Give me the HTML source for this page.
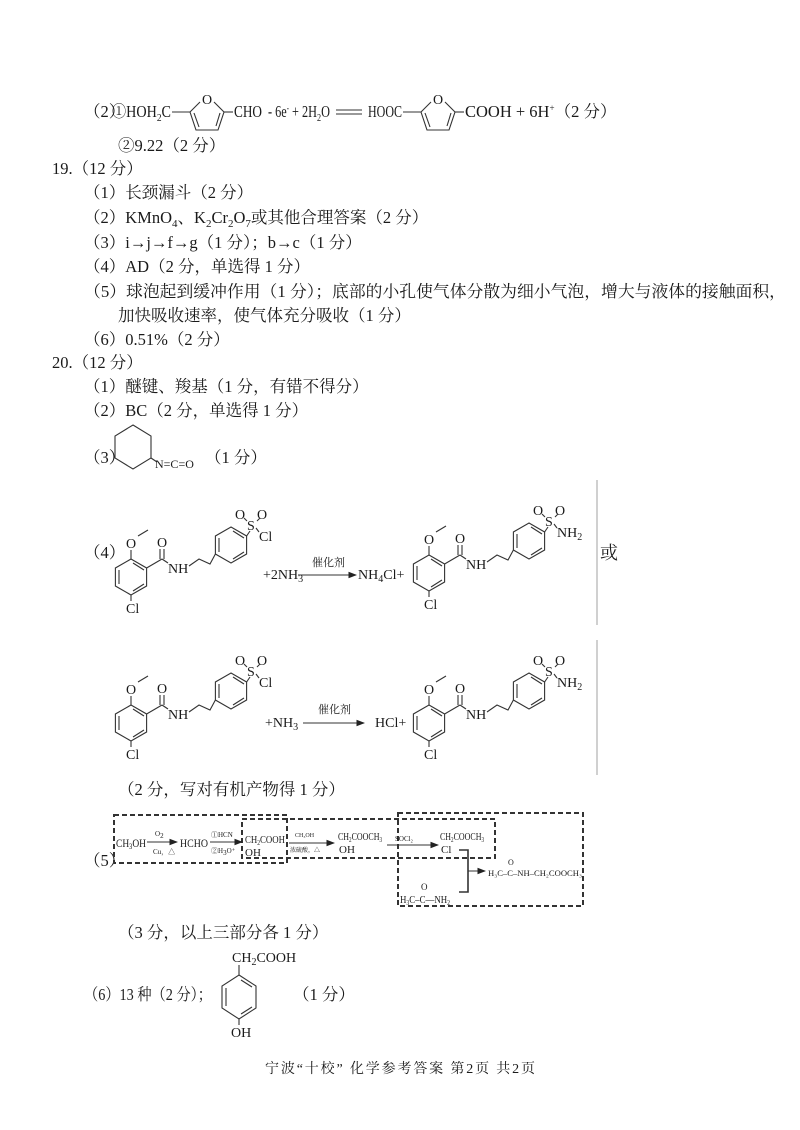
<!DOCTYPE html>
<html><head><meta charset="utf-8"><style>
html,body{margin:0;padding:0;background:#fff;}
svg{display:block;}
text{font-family:"Liberation Serif","Noto Serif CJK SC",serif;fill:#1a1a1a;}
.t{font-size:16.5px;}
.s{font-size:14px;}
line,polyline,polygon,path{stroke:#333;fill:none;stroke-width:1.1;}
</style></head><body>
<svg width="800" height="1130" viewBox="0 0 800 1130" xmlns="http://www.w3.org/2000/svg">
<defs>
<marker id="ar" markerWidth="8" markerHeight="6" refX="7" refY="3" orient="auto"><path d="M0,0 L8,3 L0,6z" style="fill:#222;stroke:none"/></marker>
<g id="m1">
 <polygon points="131,559 146.6,568 146.6,586 131,595 115.4,586 115.4,568"/>
 <line x1="119" y1="570" x2="119" y2="584"/><line x1="133" y1="591" x2="144" y2="584"/><line x1="133" y1="563" x2="144" y2="570"/>
 <line x1="131" y1="559" x2="131" y2="550"/>
 <text class="s" x="126" y="548">O</text>
 <line x1="138" y1="536" x2="148" y2="530"/>
 <line x1="146.6" y1="568" x2="162" y2="559"/>
 <line x1="160" y1="559" x2="160" y2="549"/><line x1="164" y1="559" x2="164" y2="549"/>
 <text class="s" x="157" y="547">O</text>
 <line x1="162" y1="559" x2="168" y2="563"/>
 <text class="s" x="168" y="573">NH</text>
 <polyline points="189,566 199,559 210,564 215.4,554"/>
 <polygon points="231,527 246.6,536 246.6,554 231,563 215.4,554 215.4,536"/>
 <line x1="219" y1="538" x2="219" y2="552"/><line x1="233" y1="531" x2="244" y2="538"/><line x1="233" y1="559" x2="244" y2="552"/>
 <line x1="246.6" y1="536" x2="250" y2="531"/>
 <line x1="131" y1="595" x2="131" y2="601"/>
 <text class="s" x="126" y="613">Cl</text>
 <text class="s" x="247" y="530">S</text>
 <text class="s" x="235" y="519">O</text><text class="s" x="257" y="519">O</text>
 <line x1="247" y1="521" x2="244" y2="518"/><line x1="257" y1="521" x2="260" y2="518"/>
 <line x1="256" y1="528" x2="259" y2="532"/>
</g>
<g id="fur">
 <line x1="172" y1="112" x2="190" y2="112"/>
 <polyline points="190,112 200,102"/><polyline points="214,102 224,112 218,130 196,130 190,112"/>
 <line x1="194" y1="113" x2="199" y2="127"/><line x1="220" y1="113" x2="216" y2="126"/>
 <text class="s" x="202" y="104">O</text>
 <line x1="224" y1="112" x2="233" y2="112"/>
</g>
</defs>

<!-- top equation -->
<text class="t" x="84" y="117">（2）</text>
<text class="t" x="112" y="117" textLength="59" lengthAdjust="spacingAndGlyphs">①HOH<tspan font-size="11" dy="4">2</tspan><tspan dy="-4">C</tspan></text>
<use href="#fur"/>
<text class="t" x="234" y="117" textLength="28" lengthAdjust="spacingAndGlyphs">CHO</text>
<text class="t" x="268" y="117" textLength="62" lengthAdjust="spacingAndGlyphs">- 6e<tspan font-size="9" dy="-6">-</tspan><tspan dy="6"> + 2H</tspan><tspan font-size="11" dy="4">2</tspan><tspan dy="-4">O</tspan></text>
<line x1="336" y1="110" x2="362" y2="110"/><line x1="336" y1="114" x2="362" y2="114"/>
<text class="t" x="368" y="117" textLength="34" lengthAdjust="spacingAndGlyphs">HOOC</text>
<use href="#fur" transform="translate(231,0)"/>
<text class="t" x="465" y="117">COOH  + 6H<tspan font-size="9" dy="-6">+</tspan><tspan dy="6">（2 分）</tspan></text>
<text class="t" x="118" y="151">②9.22（2 分）</text>

<text class="t" x="52" y="174">19.（12 分）</text>
<text class="t" x="84" y="198">（1）长颈漏斗（2 分）</text>
<text class="t" x="84" y="223">（2）KMnO<tspan font-size="11" dy="4">4</tspan><tspan dy="-4">、K</tspan><tspan font-size="11" dy="4">2</tspan><tspan dy="-4">Cr</tspan><tspan font-size="11" dy="4">2</tspan><tspan dy="-4">O</tspan><tspan font-size="11" dy="4">7</tspan><tspan dy="-4">或其他合理答案（2 分）</tspan></text>
<text class="t" x="84" y="248">（3）i→j→f→g（1 分）；b→c（1 分）</text>
<text class="t" x="84" y="272">（4）AD（2 分，单选得 1 分）</text>
<text class="t" x="84" y="297" textLength="702" lengthAdjust="spacingAndGlyphs">（5）球泡起到缓冲作用（1 分）；底部的小孔使气体分散为细小气泡，增大与液体的接触面积，</text>
<text class="t" x="118" y="321">加快吸收速率，使气体充分吸收（1 分）</text>
<text class="t" x="84" y="345">（6）0.51%（2 分）</text>
<text class="t" x="52" y="368">20.（12 分）</text>
<text class="t" x="84" y="392">（1）醚键、羧基（1 分，有错不得分）</text>
<text class="t" x="84" y="416">（2）BC（2 分，单选得 1 分）</text>
<text class="t" x="84" y="463">（3）</text>
<polygon points="133,425 151,436 151,458 133,469 115,458 115,436"/>
<line x1="151" y1="458" x2="157" y2="462"/>
<text style="font-size:12px" x="155" y="468">N=C=O</text>
<text class="t" x="205" y="463">（1 分）</text>

<!-- (4) -->
<use href="#m1"/>
<text class="s" x="259" y="541">Cl</text>
<text class="t" x="84" y="558">（4）</text>
<text class="s" x="263" y="579">+2NH<tspan font-size="10" dy="3">3</tspan></text>
<line x1="298" y1="575" x2="356" y2="575" marker-end="url(#ar)"/>
<text style="font-size:11px" x="312" y="566">催化剂</text>
<text class="s" x="358" y="579">NH<tspan font-size="10" dy="3">4</tspan><tspan dy="-3">Cl+</tspan></text>

<g transform="translate(298,-4)">
 <use href="#m1"/>
 <text class="s" x="259" y="541">NH<tspan font-size="10" dy="3">2</tspan></text>
</g>
<text style="font-size:18px" x="600" y="559">或</text>
<line x1="597" y1="480" x2="597" y2="625" style="stroke:#aaa"/>
<line x1="597" y1="640" x2="597" y2="775" style="stroke:#aaa"/>

<g transform="translate(0,146)">
 <use href="#m1"/>
 <text class="s" x="259" y="541">Cl</text>
</g>
<g transform="translate(298,146)">
 <use href="#m1"/>
 <text class="s" x="259" y="541">NH<tspan font-size="10" dy="3">2</tspan></text>
</g>
<text class="s" x="265" y="727">+NH<tspan font-size="10" dy="3">3</tspan></text>
<line x1="303" y1="723" x2="364" y2="723" marker-end="url(#ar)"/>
<text style="font-size:11px" x="318" y="713">催化剂</text>
<text class="s" x="375" y="727">HCl+</text>

<text class="t" x="118" y="795">（2 分，写对有机产物得 1 分）</text>

<!-- (5) -->
<text class="t" x="84" y="866">（5）</text>
<rect x="114" y="815" width="173" height="48" style="stroke:#333;fill:none;stroke-width:2;stroke-dasharray:5,3"/>
<rect x="242" y="819" width="253" height="39" style="stroke:#333;fill:none;stroke-width:2;stroke-dasharray:5,3"/>
<rect x="398" y="813" width="185" height="93" style="stroke:#333;fill:none;stroke-width:2;stroke-dasharray:5,3"/>
<text style="font-size:12px" x="116" y="847" textLength="30" lengthAdjust="spacingAndGlyphs">CH<tspan font-size="8" dy="2">3</tspan><tspan dy="-2">OH</tspan></text>
<line x1="147" y1="842" x2="177" y2="842" marker-end="url(#ar)"/>
<text style="font-size:7px" x="155" y="836">O<tspan dy="2">2</tspan></text>
<text style="font-size:7px" x="153" y="854">Cu，△</text>
<text style="font-size:12px" x="180" y="847" textLength="28" lengthAdjust="spacingAndGlyphs">HCHO</text>
<line x1="210" y1="842" x2="242" y2="842" marker-end="url(#ar)"/>
<text style="font-size:7px" x="211" y="837">①HCN</text>
<text style="font-size:7px" x="211" y="853">②H<tspan dy="2">3</tspan><tspan dy="-2">O⁺</tspan></text>
<text style="font-size:11px" x="245" y="843" textLength="40" lengthAdjust="spacingAndGlyphs">CH<tspan font-size="7" dy="2">2</tspan><tspan dy="-2">COOH</tspan></text>
<text style="font-size:11px" x="245" y="856">OH</text>
<line x1="289" y1="843" x2="334" y2="843" marker-end="url(#ar)"/>
<text style="font-size:6px" x="295" y="837">CH₃OH</text>
<text style="font-size:6px" x="290" y="852">浓硫酸，△</text>
<text style="font-size:11px" x="338" y="840" textLength="44" lengthAdjust="spacingAndGlyphs">CH<tspan font-size="7" dy="2">2</tspan><tspan dy="-2">COOCH</tspan><tspan font-size="7" dy="2">3</tspan></text>
<text style="font-size:11px" x="339" y="853">OH</text>
<text style="font-size:7px" x="395" y="841">SOCl₂</text>
<line x1="387" y1="845" x2="438" y2="845" marker-end="url(#ar)"/>
<text style="font-size:11px" x="440" y="840" textLength="44" lengthAdjust="spacingAndGlyphs">CH<tspan font-size="7" dy="2">2</tspan><tspan dy="-2">COOCH</tspan><tspan font-size="7" dy="2">3</tspan></text>
<text style="font-size:11px" x="441" y="853">Cl</text>
<polyline points="459,850 468,850 468,892 459,892" style="stroke-width:1.6"/>
<line x1="468" y1="871" x2="485" y2="871" marker-end="url(#ar)"/>
<text style="font-size:8px" x="488" y="876" textLength="94" lengthAdjust="spacingAndGlyphs">H₃C–C–NH–CH₂COOCH₃</text>
<text style="font-size:8px" x="508" y="865">O</text>
<text style="font-size:11px" x="400" y="903" textLength="50" lengthAdjust="spacingAndGlyphs">H<tspan font-size="7" dy="2">3</tspan><tspan dy="-2">C–C—NH</tspan><tspan font-size="7" dy="2">2</tspan></text>
<text style="font-size:9px" x="421" y="890">O</text>

<text class="t" x="118" y="938">（3 分，以上三部分各 1 分）</text>

<!-- (6) -->
<text class="s" x="232" y="962">CH<tspan font-size="10" dy="3">2</tspan><tspan dy="-3">COOH</tspan></text>
<line x1="239" y1="965" x2="239" y2="975"/>
<polygon points="239,975 256,986 256,1008 239,1019 222,1008 222,986"/>
<line x1="226" y1="988" x2="226" y2="1006"/><line x1="241" y1="980" x2="252" y2="987"/><line x1="241" y1="1014" x2="252" y2="1007"/>
<line x1="239" y1="1019" x2="239" y2="1025"/>
<text class="s" x="231" y="1037">OH</text>
<text class="t" x="84" y="1000" textLength="128" lengthAdjust="spacingAndGlyphs">（6）13 种（2 分）；</text>
<text class="t" x="293" y="1000">（1 分）</text>

<text style="font-size:14px" x="265" y="1073" textLength="270" lengthAdjust="spacing">宁波“十校” 化学参考答案 第2页 共2页</text>
</svg>
</body></html>
